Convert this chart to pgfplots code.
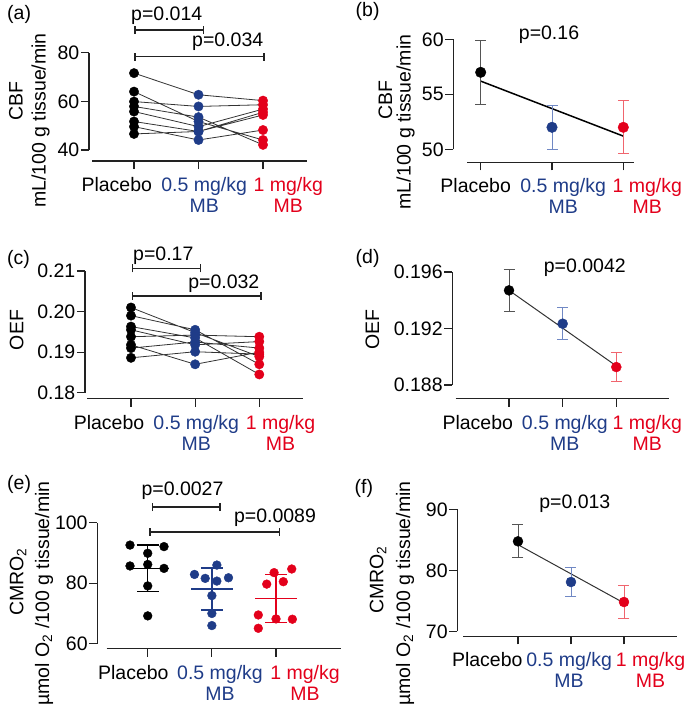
\documentclass[border=0pt]{standalone}
\usepackage{fontspec}
\setmainfont{Liberation Sans}
\usepackage{pgfplots}
\pgfplotsset{compat=1.18}
\usepackage{pgfplotstable}

\definecolor{mbblue}{HTML}{1F3C88}
\definecolor{mbred}{HTML}{E3001B}
\definecolor{axisgray}{HTML}{222222}
\definecolor{pairgray}{HTML}{333333}
\definecolor{ebblack}{HTML}{555555}
\definecolor{ebblue}{HTML}{7088C4}
\definecolor{ebred}{HTML}{F0656E}

\tikzset{
  axline/.style={axisgray, line width=1.2pt},
  brk/.style={axisgray, line width=1.2pt},
}
\pgfplotsset{
  prism/.style={
    scale only axis, clip=false, anchor=south west,
    axis x line=bottom, axis y line=left,
    axis line style={draw=none},
    tick align=outside, major tick length=8pt,
    tick style={axisgray, line width=1.2pt},
    xtick={0,1,2}, xticklabels={,,},
    xticklabel style={align=center, anchor=north, inner sep=0pt},
    extra x tick labels={Placebo,
      {\textcolor{mbblue}{0.5 mg/kg}\\\textcolor{mbblue}{MB}},
      {\textcolor{mbred}{1 mg/kg}\\\textcolor{mbred}{MB}}},
    extra x tick style={major tick length=0pt, xticklabel style={yshift=-16pt}},
    yticklabel style={inner xsep=1.5pt},
    /pgf/number format/assume math mode=true,
  },
  pairs/.style={pairgray, line width=0.8pt, mark=none, unbounded coords=jump},
  groups/.style={scatter, only marks, mark=*, point meta=explicit symbolic,
    scatter/classes={p={mark=*,black}, b={mark=*,mbblue}, r={mark=*,mbred}}},
}

% y axis at xmin from #3 to #4, x axis at ymin #2 from #5 to #6
\newcommand{\prismaxes}[6]{%
  \draw[axline] (axis cs:#1,#3) -- (axis cs:#1,#4);
  \draw[axline] (axis cs:#5,#2) -- (axis cs:#6,#2);}
% significance bracket from #1 to #2 at height #3
\newcommand{\bracket}[3]{%
  \draw[brk] (axis cs:#1,#3) -- (axis cs:#2,#3);
  \draw[brk] ([yshift=-4pt]axis cs:#1,#3) -- ([yshift=4pt]axis cs:#1,#3);
  \draw[brk] ([yshift=-4pt]axis cs:#2,#3) -- ([yshift=4pt]axis cs:#2,#3);}
% group mean with error bar: mark colour, bar colour, x, y, error, mark size
\newcommand{\groupmean}[6]{%
  \addplot[only marks, mark=*, mark size=#6, #1,
    error bars/.cd, y dir=both, y explicit,
    error bar style={#2, line width=0.9pt},
    error mark options={rotate=90, #2, mark size=5.5pt, line width=0.9pt}]
    coordinates {(#3,#4) +- (0,#5)};}
% mean line and SD whiskers: colour, x, mean, sd
\newcommand{\meansd}[4]{%
  \addplot[#1, line width=1.5pt, mark=none,
    error bars/.cd, x dir=both, x fixed=0.33, error mark=none,
    error bar style={#1, line width=1.5pt}]
    coordinates {(#2,#3)};
  \addplot[#1, line width=1.5pt, mark=none,
    error bars/.cd, y dir=both, y explicit,
    error bar style={#1, line width=1.5pt},
    error mark options={rotate=90, #1, mark size=11pt, line width=1.5pt}]
    coordinates {(#2,#3) +- (0,#4)};}

\pgfplotstableread{
x y g
0 71.6 p
1 62.7 b
2 60.3 r
nan nan p
0 64.0 p
1 51.7 b
2 44.1 r
nan nan p
0 59.9 p
1 57.9 b
2 58.6 r
nan nan p
0 57.9 p
1 53.5 b
2 42.1 r
nan nan p
0 55.8 p
1 49.6 b
2 56.8 r
nan nan p
0 51.7 p
1 47.6 b
2 54.4 r
nan nan p
0 49.6 p
1 44.1 b
2 48.2 r
nan nan p
0 46.6 p
1 47.6 b
2 55.5 r
}\cbfpairs

\pgfplotstableread{
x y g
0 0.2010 p
1 0.1948 b
2 0.1889 r
nan nan p
0 0.1990 p
1 0.1955 b
2 0.1870 r
nan nan p
0 0.1963 p
1 0.1935 b
2 0.1845 r
nan nan p
0 0.1955 p
1 0.1918 b
2 0.1926 r
nan nan p
0 0.1938 p
1 0.1942 b
2 0.1938 r
nan nan p
0 0.1918 p
1 0.1870 b
2 0.1900 r
nan nan p
0 0.1910 p
1 0.1925 b
2 0.1910 r
nan nan p
0 0.1886 p
1 0.1901 b
2 0.1895 r
}\oefpairs

\pgfplotstableread{
x y g
-0.276 92.6 p
0.254 92.1 p
0 89.9 p
-0.276 85.7 p
0 86.2 p
0.254 84.9 p
0 79.1 p
0 69.2 p
1.078 86.0 b
0.729 82.9 b
0.896 81.6 b
1.078 80.7 b
1.259 81.8 b
1 75.9 b
1 70.0 b
1 66.0 b
2.245 84.7 r
1.970 83.5 r
1.855 79.7 r
2.114 80.5 r
1.724 69.5 r
2 68.2 r
2.255 68.1 r
1.724 65.1 r
}\cmroscatter

\begin{document}
\fontsize{19.5}{21}\selectfont
\begin{tikzpicture}
\path[use as bounding box] (0,0) rectangle (688pt,-707pt);

% (a) CBF paired
\begin{axis}[prism, at={(89pt,-161pt)}, width=218pt, height=108.3pt,
  xmin=-0.698, xmax=2.682, ymin=35.46, ymax=80, ytick={40,60,80},
  extra x ticks={-0.268,1.088,2.392}]
\addplot[pairs] table[x=x, y=y] {\cbfpairs};
\addplot[groups, mark size=4.7pt] table[x=x, y=y, meta=g] {\cbfpairs};
\prismaxes{-0.698}{35.46}{40}{80}{-0.651}{2.682}
\bracket{0.0155}{1.074}{89.33}
\bracket{0.0155}{2.016}{78.36}
\node[anchor=base] at (axis cs:0.507,93.16) {p=0.014};
\node[anchor=base] at (axis cs:1.453,82.47) {p=0.034};
\end{axis}

% (b) CBF means
\begin{axis}[prism, at={(453.3pt,-162.3pt)}, width=212.8pt, height=123pt,
  xmin=-0.384, xmax=2.6, ymin=48.82, ymax=60, ytick={50,55,60},
  extra x ticks={-0.07,1.157,2.337}]
\addplot[black, line width=1.5pt, mark=none] coordinates {(0,56.2) (2,51.2)};
\groupmean{black}{ebblack}{0}{57.0}{2.9}{5.3pt}
\groupmean{mbblue}{ebblue}{1}{52.0}{2.0}{5.3pt}
\groupmean{mbred}{ebred}{2}{52.0}{2.4}{5.3pt}
\prismaxes{-0.384}{48.82}{50}{60}{-0.188}{2.150}
\node[anchor=base] at (axis cs:0.958,60.0) {p=0.16};
\end{axis}

% (c) OEF paired
\begin{axis}[prism, at={(85pt,-398.7pt)}, width=218.3pt, height=127.7pt,
  xmin=-0.717, xmax=2.686, ymin=0.17852, ymax=0.21,
  ytick={0.18,0.19,0.20,0.21}, yticklabels={0.18,0.19,0.20,0.21},
  extra x ticks={-0.343,1.018,2.331}]
\addplot[pairs] table[x=x, y=y] {\oefpairs};
\addplot[groups, mark size=4.7pt] table[x=x, y=y, meta=g] {\oefpairs};
\prismaxes{-0.717}{0.17852}{0.18}{0.21}{-0.681}{2.686}
\bracket{0.0265}{1.080}{0.21066}
\bracket{0.0265}{2.026}{0.20384}
\node[anchor=base] at (axis cs:0.504,0.21271) {p=0.17};
\node[anchor=base] at (axis cs:1.447,0.20573) {p=0.032};
\end{axis}

% (d) OEF means
\begin{axis}[prism, at={(452.3pt,-398.7pt)}, width=216.7pt, height=126.7pt,
  xmin=-1.057, xmax=2.982, ymin=0.18703, ymax=0.196,
  ytick={0.188,0.192,0.196}, yticklabels={0.188,0.192,0.196},
  extra x ticks={-0.583,1.04,2.578}]
\addplot[pairgray, line width=1pt, mark=none] coordinates {(0,0.19470) (2,0.18935)};
\groupmean{black}{ebblack}{0}{0.19470}{0.00148}{5pt}
\groupmean{mbblue}{ebblue}{1}{0.19234}{0.00112}{5pt}
\groupmean{mbred}{ebred}{2}{0.18927}{0.00101}{5pt}
\prismaxes{-1.057}{0.18703}{0.188}{0.196}{-0.994}{2.982}
\node[anchor=base] at (axis cs:1.413,0.19595) {p=0.0042};
\end{axis}

% (e) CMRO2 scatter
\begin{axis}[prism, at={(97.3pt,-648.7pt)}, width=243.7pt, height=126pt,
  xmin=-0.786, xmax=3.013, ymin=58.35, ymax=100, ytick={60,80,100},
  extra x ticks={-0.224,1.127,2.452}]
\addplot[groups, mark size=4.4pt] table[x=x, y=y, meta=g] {\cmroscatter};
\meansd{black}{0}{84.9}{7.7}
\meansd{mbblue}{1}{78.1}{6.9}
\meansd{mbred}{2}{74.9}{7.9}
\prismaxes{-0.786}{58.35}{60}{100}{-0.639}{3.013}
\bracket{0.072}{1.127}{105.19}
\bracket{0.036}{2.051}{96.93}
\node[anchor=base] at (axis cs:0.542,108.83) {p=0.0027};
\node[anchor=base] at (axis cs:1.984,100.23) {p=0.0089};
\end{axis}

% (f) CMRO2 means
\begin{axis}[prism, at={(457.3pt,-636.3pt)}, width=220pt, height=127pt,
  xmin=-1.145, xmax=3.006, ymin=69.18, ymax=90, ytick={70,80,90},
  extra x ticks={-0.579,0.964,2.5}]
\addplot[pairgray, line width=1pt, mark=none] coordinates {(0,84.2) (2,74.64)};
\groupmean{black}{ebblack}{0}{84.75}{2.7}{5pt}
\groupmean{mbblue}{ebblue}{1}{78.08}{2.35}{5pt}
\groupmean{mbred}{ebred}{2}{74.8}{2.73}{5pt}
\prismaxes{-1.145}{69.18}{70}{90}{-1.032}{3.006}
\node[anchor=base] at (axis cs:1.072,90.1) {p=0.013};
\end{axis}

% panel letters
\node[anchor=base west] at (0.5pt,-19.2pt) {(a)};
\node[anchor=base west] at (349pt,-16.6pt) {(b)};
\node[anchor=base west] at (0.5pt,-264.2pt) {(c)};
\node[anchor=base west] at (349pt,-263.6pt) {(d)};
\node[anchor=base west] at (0.5pt,-489.6pt) {(e)};
\node[anchor=base west] at (348pt,-493pt) {(f)};

% y axis titles
\node[rotate=90] at (15.8pt,-101pt) {CBF};
\node[rotate=90] at (40.5pt,-120.5pt) {mL/100 g tissue/min};
\node[rotate=90] at (385.5pt,-100pt) {CBF};
\node[rotate=90] at (405.5pt,-122pt) {mL/100 g tissue/min};
\node[rotate=90] at (16.7pt,-330pt) {OEF};
\node[rotate=90] at (372.5pt,-329.5pt) {OEF};
\node[rotate=90] at (18pt,-582pt) {CMRO\textsubscript{2}};
\node[rotate=90] at (44pt,-593.5pt) {µmol O\textsubscript{2} /100 g tissue/min};
\node[rotate=90] at (378pt,-580pt) {CMRO\textsubscript{2}};
\node[rotate=90] at (405pt,-593.5pt) {µmol O\textsubscript{2} /100 g tissue/min};
\end{tikzpicture}
\end{document}
